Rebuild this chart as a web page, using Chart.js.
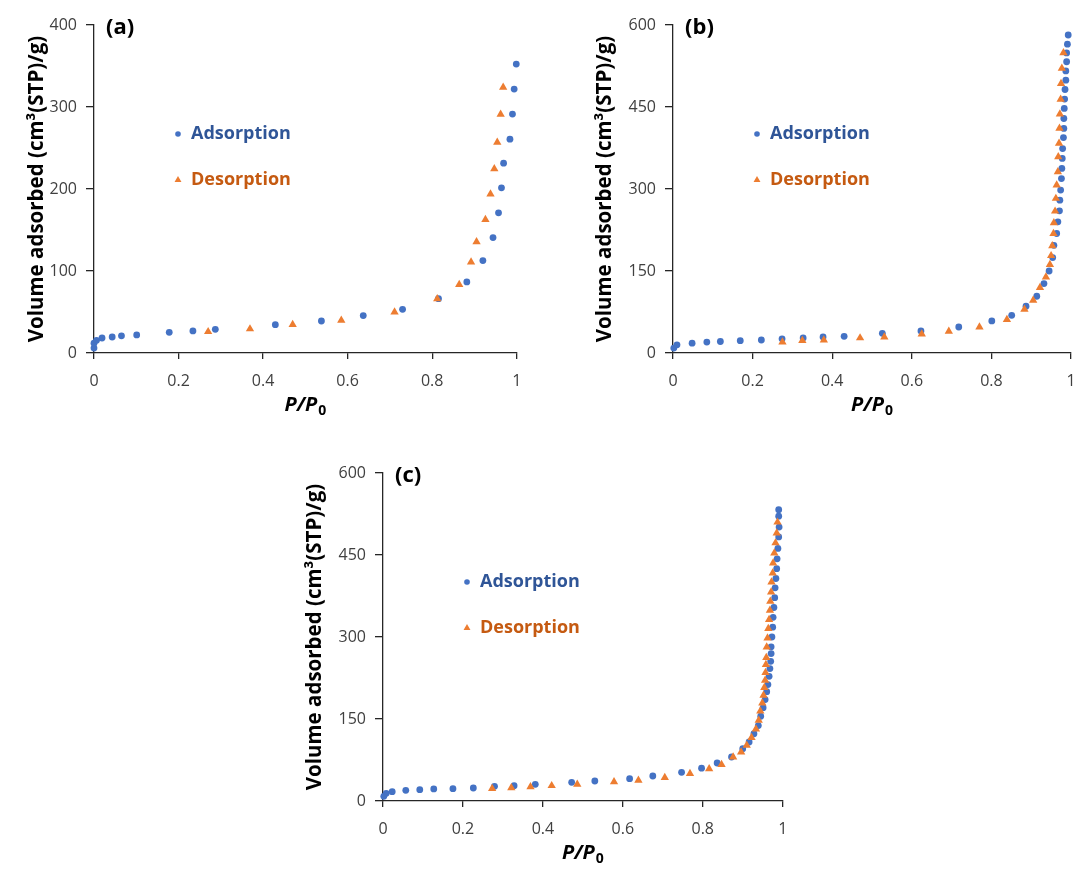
<!DOCTYPE html>
<html><head><meta charset="utf-8">
<script src="https://cdn.jsdelivr.net/npm/chart.js@4.4.0/dist/chart.umd.min.js"></script>
<style>
html,body{margin:0;padding:0;background:#fff;}
body{width:1079px;height:870px;position:relative;overflow:hidden;}
canvas{position:absolute;}
</style></head><body>
<canvas id="ca" width="515" height="420" style="left:25px;top:0px;"></canvas>
<canvas id="cb" width="503" height="420" style="left:593px;top:0px;"></canvas>
<canvas id="cc" width="505" height="420" style="left:303px;top:448px;"></canvas>
<script>
// ---------- data ----------
const seriesNames = ['Adsorption', 'Desorption'];
const xTickLabels = ['0', '0.2', '0.4', '0.6', '0.8', '1'];
const yTickLabelsA = ['0', '100', '200', '300', '400'];
const yTickLabelsBC = ['0', '150', '300', '450', '600'];
const yTitle = 'Volume adsorbed (cm³(STP)/g)';

// panel (a)
const aAdsX = [0, 0, 0.006, 0.019, 0.043, 0.065, 0.101, 0.178, 0.234, 0.287, 0.429, 0.538, 0.637, 0.730, 0.815, 0.882, 0.920, 0.944, 0.957, 0.964, 0.969, 0.984, 0.990, 0.994, 0.999];
const aAdsY = [6, 12, 15.5, 18.3, 19.5, 21, 22, 25.2, 26.9, 28.9, 34.6, 39, 45.6, 53.3, 66.3, 86.7, 112.7, 140.8, 170.9, 201.4, 231.5, 260.8, 291.4, 321.9, 352.4];
const aDesX = [0.968, 0.962, 0.954, 0.947, 0.938, 0.926, 0.905, 0.892, 0.864, 0.812, 0.711, 0.585, 0.470, 0.369, 0.270];
const aDesY = [324, 291, 257, 224.6, 193.7, 162.8, 135.5, 111, 83.4, 66, 50, 39.9, 34.6, 29.3, 26];

// panel (b)
const bAdsX = [0.002, 0.010, 0.048, 0.085, 0.119, 0.169, 0.222, 0.274, 0.327, 0.377, 0.430, 0.526, 0.623, 0.718, 0.801, 0.851, 0.887, 0.914, 0.932, 0.945, 0.954, 0.957, 0.964, 0.967, 0.971, 0.972, 0.974, 0.976, 0.977, 0.978, 0.979, 0.981, 0.982, 0.982, 0.983, 0.984, 0.985, 0.987, 0.987, 0.989, 0.989, 0.991, 0.993];
const bAdsY = [9, 15, 18, 20, 21, 22.6, 23.8, 26, 27.5, 29.3, 30.5, 36, 40.3, 47.6, 58.6, 69, 85.5, 103.8, 127, 150, 174.6, 197, 218.6, 240, 260, 279.6, 298, 319, 337.6, 356, 374, 394, 410.8, 429, 447.4, 464.5, 482, 499, 516, 532.8, 549, 565, 581.7];
const bDesX = [0.981, 0.977, 0.975, 0.974, 0.972, 0.971, 0.970, 0.968, 0.967, 0.964, 0.962, 0.960, 0.957, 0.956, 0.953, 0.950, 0.947, 0.937, 0.922, 0.905, 0.883, 0.839, 0.770, 0.693, 0.625, 0.531, 0.470, 0.379, 0.325, 0.275];
const bDesY = [549, 520.7, 493, 464, 437, 411, 383.4, 359, 331.4, 307, 282.7, 259.4, 238, 218.6, 196, 178, 161.8, 139, 119.7, 96.5, 80, 61, 47.6, 39.7, 34.8, 29.3, 27.5, 23.8, 22.6, 20.1];

// panel (c)
const cAdsX = [0.002, 0.008, 0.023, 0.057, 0.092, 0.127, 0.175, 0.226, 0.279, 0.328, 0.381, 0.472, 0.530, 0.617, 0.675, 0.747, 0.797, 0.836, 0.872, 0.900, 0.916, 0.928, 0.939, 0.945, 0.951, 0.956, 0.960, 0.963, 0.966, 0.968, 0.970, 0.971, 0.971, 0.973, 0.975, 0.976, 0.978, 0.980, 0.981, 0.983, 0.985, 0.986, 0.988, 0.990, 0.991, 0.990, 0.990];
const cAdsY = [8.5, 14, 17, 19.5, 20.7, 22, 22.6, 23.8, 26.8, 28, 30.5, 34.1, 36.6, 40.9, 45.7, 52.5, 60, 69.5, 80.5, 95.8, 107.9, 123, 137.9, 155, 170.8, 185.5, 200, 213, 228, 242.2, 255.5, 269.6, 282, 300, 318, 336, 354, 372, 390, 407, 425, 443, 462, 483, 501, 521, 533];
const cDesX = [0.987, 0.985, 0.982, 0.979, 0.976, 0.975, 0.972, 0.971, 0.969, 0.968, 0.966, 0.964, 0.962, 0.960, 0.959, 0.958, 0.957, 0.956, 0.954, 0.952, 0.949, 0.944, 0.940, 0.933, 0.922, 0.910, 0.896, 0.876, 0.847, 0.816, 0.768, 0.705, 0.639, 0.578, 0.486, 0.422, 0.369, 0.321, 0.273];
const cDesY = [510, 490, 472, 453.6, 435.3, 417, 400.6, 382.3, 365.3, 348.8, 331.8, 315.3, 298, 281.7, 262.3, 249.5, 234.9, 220.8, 207.4, 193.3, 179.3, 164.6, 147.6, 131.7, 116, 101.9, 89.6, 80.5, 66.6, 59, 50, 43, 38, 35, 30.5, 28, 26, 24, 22.6];

// ---------- styling ----------
const BLUE = '#4472C4', ORANGE = '#ED7D31';
const BLUE_TXT = '#2F5597', ORANGE_TXT = '#C55A11';
const AXIS = '#262626', TICK_TXT = '#404040';
const FONT = '"Open Sans", "Liberation Sans", sans-serif';

function pts(xs, ys) { return xs.map((x, i) => ({ x: x, y: ys[i] })); }

const decor = {
  id: 'decor',
  afterDraw(chart, args, opts) {
    const ctx = chart.ctx, a = chart.chartArea;
    ctx.save();
    // panel label
    ctx.font = 'bold 22px ' + FONT;
    ctx.fillStyle = '#000';
    ctx.textBaseline = 'middle';
    ctx.textAlign = 'left';
    ctx.fillText(opts.panel, a.left + 12, a.top + 3);
    // legend
    const txtCols = [BLUE_TXT, ORANGE_TXT];
    chart.data.datasets.forEach((ds, i) => {
      const y = a.top + 109 + i * 46;
      const x = a.left + 84;
      ctx.fillStyle = ds.backgroundColor;
      ctx.strokeStyle = ds.backgroundColor;
      ctx.lineWidth = 0.01;
      Chart.helpers.drawPoint(ctx, { pointStyle: ds.pointStyle, rotation: 0, radius: ds.pointStyle === 'triangle' ? 4 : 2.8, borderWidth: 0 }, x, y);
      ctx.fillStyle = txtCols[i];
      ctx.font = 'bold 18px ' + FONT;
      ctx.textBaseline = 'middle';
      ctx.fillText(ds.label, x + 13, y);
    });
    // x axis title P/P0
    const cx = (a.left + a.right) / 2, ty = a.bottom + 52;
    ctx.fillStyle = '#000';
    ctx.font = 'italic bold 20px ' + FONT;
    const main = 'P/P';
    const w1 = ctx.measureText(main).width;
    ctx.font = 'bold 14px ' + FONT;
    const w2 = ctx.measureText('0').width;
    const sx = cx - (w1 + w2 + 1) / 2;
    ctx.font = 'italic bold 20px ' + FONT;
    ctx.fillText(main, sx, ty);
    ctx.font = 'bold 14px ' + FONT;
    ctx.fillText('0', sx + w1 + 1, ty + 6);
    ctx.restore();
  }
};

function makeChart(id, panel, adsX, adsY, desX, desY, yMax, yStep, yLabels, yWidth, padR) {
  return new Chart(document.getElementById(id), {
    type: 'scatter',
    data: {
      datasets: [
        { label: seriesNames[0], data: pts(adsX, adsY), backgroundColor: BLUE, borderColor: BLUE, borderWidth: 0, pointStyle: 'circle', pointRadius: 3.4, order: 1, clip: false },
        { label: seriesNames[1], data: pts(desX, desY), backgroundColor: ORANGE, borderColor: ORANGE, borderWidth: 0, pointStyle: 'triangle', pointRadius: 4.8, order: 0, clip: false }
      ]
    },
    options: {
      responsive: false,
      animation: false,
      layout: { padding: { left: 0, top: 25, right: padR, bottom: 0 } },
      plugins: { legend: { display: false }, tooltip: { enabled: false }, decor: { panel: panel } },
      scales: {
        x: {
          type: 'linear', min: 0, max: 1,
          ticks: { stepSize: 0.2, color: TICK_TXT, font: { family: FONT, size: 16 }, padding: 13, maxRotation: 0,
                   callback: (v, i) => xTickLabels[i] },
          grid: { drawOnChartArea: false, drawTicks: true, tickLength: 6, color: AXIS, lineWidth: 1.3 },
          border: { display: true, color: AXIS, width: 1.3 },
          title: { display: false },
          afterFit(s) { s.height = 67; }
        },
        y: {
          type: 'linear', min: 0, max: yMax,
          ticks: { stepSize: yStep, color: TICK_TXT, font: { family: FONT, size: 16 }, padding: 9,
                   callback: (v, i) => yLabels[i] },
          grid: { drawOnChartArea: false, drawTicks: true, tickLength: 8, color: AXIS, lineWidth: 1.3 },
          border: { display: true, color: AXIS, width: 1.3 },
          title: { display: true, text: yTitle, color: '#000', padding: 0,
                   font: { family: FONT, size: 20.5, weight: 'bold' } },
          afterFit(s) { s.width = yWidth; }
        }
      }
    },
    plugins: [decor]
  });
}

makeChart('ca', '(a)', aAdsX, aAdsY, aDesX, aDesY, 400, 100, yTickLabelsA, 69, 23.3);
makeChart('cb', '(b)', bAdsX, bAdsY, bDesX, bDesY, 600, 150, yTickLabelsBC, 80, 25);
makeChart('cc', '(c)', cAdsX, cAdsY, cDesX, cDesY, 600, 150, yTickLabelsBC, 80, 25.3);
</script>
</body></html>
